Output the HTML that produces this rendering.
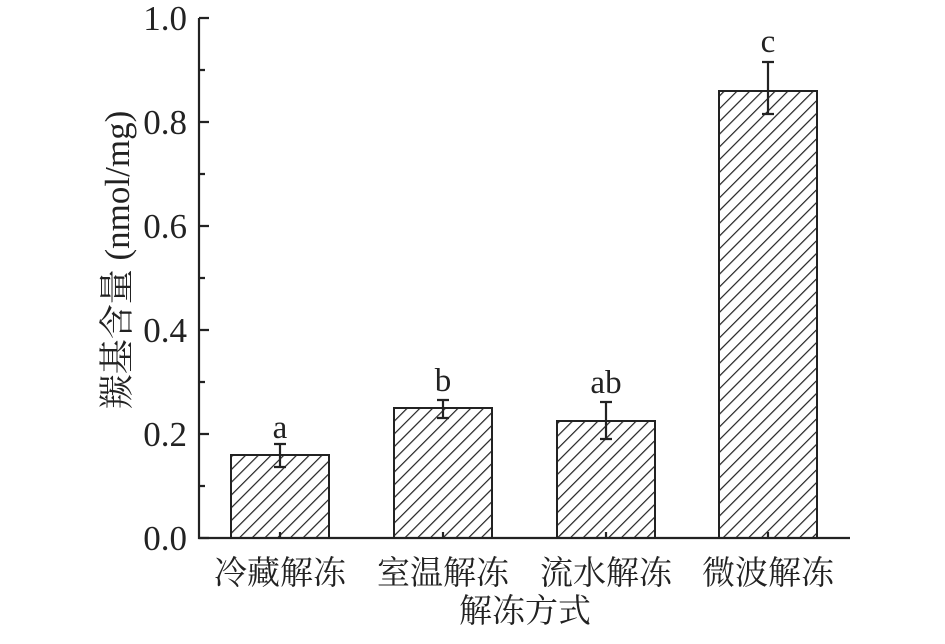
<!DOCTYPE html>
<html><head><meta charset="utf-8"><style>
html,body{margin:0;padding:0;background:#fff;}
</style></head><body>
<svg width="945" height="639" xmlns="http://www.w3.org/2000/svg" font-family="Liberation Serif, Noto Serif CJK SC, serif">
<defs>
<pattern id="h" patternUnits="userSpaceOnUse" width="9" height="9" patternTransform="rotate(45)">
<rect width="9" height="9" fill="#fff"/>
<line x1="0" y1="0" x2="0" y2="9" stroke="#222" stroke-width="2.4"/>
</pattern>
</defs>
<g stroke="#222" stroke-width="2" fill="url(#h)">
<rect x="231" y="455" width="98" height="83"/>
<rect x="394" y="408" width="98" height="130"/>
<rect x="557" y="421" width="98" height="117"/>
<rect x="719" y="91" width="98" height="447"/>
</g>
<g stroke="#222" stroke-width="2.2" fill="none">
<path d="M280 444V467M274 444H286M274 467H286"/>
<path d="M443 400V418M437 400H449M437 418H449"/>
<path d="M606 402V439M600 402H612M600 439H612"/>
<path d="M768 62V114M762 62H774M762 114H774"/>
<path d="M199 18V538H850"/>
<path d="M199 538H209M199 434H209M199 330H209M199 226H209M199 122H209M199 18H209"/>
<path d="M199 486H205M199 382H205M199 278H205M199 174H205M199 70H205"/>
<path d="M280 538V532M443 538V532M606 538V532M768 538V532"/>
</g>
<g font-size="35" fill="#222" text-anchor="end">
<text x="187" y="550">0.0</text><text x="187" y="446">0.2</text><text x="187" y="342">0.4</text>
<text x="187" y="238">0.6</text><text x="187" y="134">0.8</text><text x="187" y="30">1.0</text>
</g>
<g font-size="33" fill="#222" text-anchor="middle">
<text x="280" y="438">a</text><text x="443" y="391">b</text><text x="606" y="393">ab</text><text x="768" y="52">c</text>
<text x="280" y="584">冷藏解冻</text><text x="443" y="584">室温解冻</text>
<text x="606" y="584">流水解冻</text><text x="768" y="584">微波解冻</text>
<text x="525" y="622">解冻方式</text>
<text transform="translate(129,260) rotate(-90)" font-size="35">羰基含量 (nmol/mg)</text>
</g>
</svg>
</body></html>
